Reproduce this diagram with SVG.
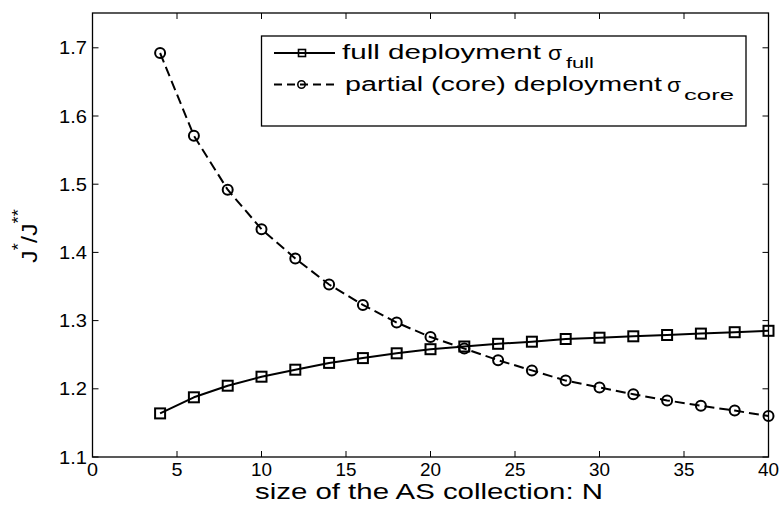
<svg xmlns="http://www.w3.org/2000/svg" width="781" height="513" viewBox="0 0 781 513">
<style>
text{font-family:"Liberation Sans",Arial,sans-serif;fill:#000}
.tk{font-size:18px}
.frame{fill:none;stroke:#000;stroke-width:1.3}
.tick{stroke:#000;stroke-width:1}
.data{fill:none;stroke:#000;stroke-width:2;stroke-linejoin:round}
.dash{stroke-dasharray:10 5}
.lg{font-size:20px}
.sub{font-size:15px}
</style>
<defs>
<marker id="sq" markerUnits="userSpaceOnUse" markerWidth="16" markerHeight="16" refX="8" refY="8" overflow="visible">
<rect x="3" y="3" width="10" height="10" fill="none" stroke="#000" stroke-width="2" stroke-dasharray="none"/>
</marker>
<marker id="ci" markerUnits="userSpaceOnUse" markerWidth="16" markerHeight="16" refX="8" refY="8" overflow="visible">
<circle cx="8" cy="8" r="5" fill="none" stroke="#000" stroke-width="2" stroke-dasharray="none"/>
</marker>
</defs>
<rect width="781" height="513" fill="#fff"/>
<g id="axes">
<rect class="frame" x="92.5" y="13" width="676" height="444"/>
<g class="tick">
<path d="M92.5 457v-6M177 457v-6M261.5 457v-6M346 457v-6M430.5 457v-6M515 457v-6M599.5 457v-6M684 457v-6M768.5 457v-6"/>
<path d="M92.5 13v6M177 13v6M261.5 13v6M346 13v6M430.5 13v6M515 13v6M599.5 13v6M684 13v6M768.5 13v6"/>
<path d="M92.5 457h6M92.5 388.8h6M92.5 320.6h6M92.5 252.4h6M92.5 184.2h6M92.5 116h6M92.5 47.8h6"/>
<path d="M768.5 457h-6M768.5 388.8h-6M768.5 320.6h-6M768.5 252.4h-6M768.5 184.2h-6M768.5 116h-6M768.5 47.8h-6"/>
</g>
<g class="tk" text-anchor="end">
<text x="87" y="463.5" textLength="28" lengthAdjust="spacingAndGlyphs">1.1</text>
<text x="87" y="395.3" textLength="28" lengthAdjust="spacingAndGlyphs">1.2</text>
<text x="87" y="327.1" textLength="28" lengthAdjust="spacingAndGlyphs">1.3</text>
<text x="87" y="258.9" textLength="28" lengthAdjust="spacingAndGlyphs">1.4</text>
<text x="87" y="190.7" textLength="28" lengthAdjust="spacingAndGlyphs">1.5</text>
<text x="87" y="122.5" textLength="28" lengthAdjust="spacingAndGlyphs">1.6</text>
<text x="87" y="54.3" textLength="28" lengthAdjust="spacingAndGlyphs">1.7</text>
</g>
<g class="tk" text-anchor="middle">
<text x="92.5" y="476" textLength="11" lengthAdjust="spacingAndGlyphs">0</text>
<text x="177" y="476" textLength="11" lengthAdjust="spacingAndGlyphs">5</text>
<text x="261.5" y="476" textLength="21" lengthAdjust="spacingAndGlyphs">10</text>
<text x="346" y="476" textLength="21" lengthAdjust="spacingAndGlyphs">15</text>
<text x="430.5" y="476" textLength="21" lengthAdjust="spacingAndGlyphs">20</text>
<text x="515" y="476" textLength="21" lengthAdjust="spacingAndGlyphs">25</text>
<text x="599.5" y="476" textLength="21" lengthAdjust="spacingAndGlyphs">30</text>
<text x="684" y="476" textLength="21" lengthAdjust="spacingAndGlyphs">35</text>
<text x="768.5" y="476" textLength="21" lengthAdjust="spacingAndGlyphs">40</text>
</g>
<text x="255" y="499" font-size="22" textLength="348" lengthAdjust="spacingAndGlyphs">size of the AS collection: N</text>
<text transform="translate(37,236) rotate(-90) scale(1.15,1)" font-size="22" text-anchor="middle">J<tspan font-size="16" dy="-13">*</tspan><tspan dy="13">/J</tspan><tspan font-size="16" dy="-13">**</tspan></text>
</g>
<g id="connectors">
<polyline id="full" class="data" marker-start="url(#sq)" marker-mid="url(#sq)" marker-end="url(#sq)" points="160.1,413.4 193.9,397.3 227.7,385.7 261.5,376.7 295.3,369.7 329.1,362.9 362.9,358.1 396.7,353.3 430.5,349.2 464.3,346.5 498.1,343.8 531.9,341.7 565.7,339 599.5,337.7 633.3,336.3 667.1,335 700.9,333.6 734.7,332.2 768.5,330.8"/>
<polyline id="core" class="data dash" marker-start="url(#ci)" marker-mid="url(#ci)" marker-end="url(#ci)" points="160.1,53 193.9,135.8 227.7,189.7 261.5,229.2 295.3,258.5 329.1,284.5 362.9,304.9 396.7,322.6 430.5,337 464.3,348.6 498.1,360.2 531.9,370.4 565.7,380.6 599.5,387.4 633.3,394.2 667.1,400.4 700.9,405.8 734.7,410.6 768.5,416.1"/>
</g>
<g id="legend">
<rect x="261.5" y="36" width="484.5" height="90" fill="#fff" stroke="#000" stroke-width="1.3"/>
<path d="M274 53H335" stroke="#000" stroke-width="2"/>
<rect x="298.5" y="49.5" width="7" height="7" fill="none" stroke="#000" stroke-width="1.6"/>
<path d="M274 84.5H335" stroke="#000" stroke-width="2" stroke-dasharray="8 5"/>
<circle cx="301.5" cy="84.5" r="3.7" fill="none" stroke="#000" stroke-width="1.6"/>
<text class="lg" x="342" y="58.5" textLength="199" lengthAdjust="spacingAndGlyphs">full deployment</text>
<text class="lg" x="548" y="59.5" textLength="14" lengthAdjust="spacingAndGlyphs">σ</text>
<text class="sub" x="566" y="68" textLength="28" lengthAdjust="spacingAndGlyphs">full</text>
<text class="lg" x="345" y="90.5" textLength="317" lengthAdjust="spacingAndGlyphs">partial (core) deployment</text>
<text class="lg" x="667" y="91.5" textLength="14" lengthAdjust="spacingAndGlyphs">σ</text>
<text class="sub" x="684" y="100" textLength="50" lengthAdjust="spacingAndGlyphs">core</text>
</g>
</svg>
